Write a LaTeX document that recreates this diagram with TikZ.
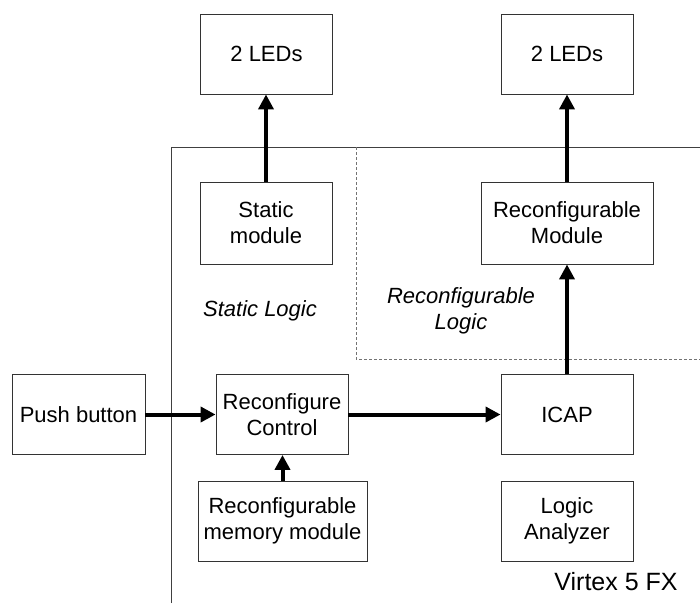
\documentclass[tikz,border=0pt]{standalone}
\usepackage{fontspec}
\setmainfont{Liberation Sans}
\usetikzlibrary{arrows.meta}

\tikzset{
  block/.style={draw=black!80, line width=0.9pt, align=center, inner sep=0pt,
    minimum width=132pt, minimum height=80pt,
    font=\fontsize{22}{26}\selectfont},
  flow/.style={line width=4pt, -{Triangle[length=15pt,width=15pt]}},
  area/.style={font=\fontsize{22}{26}\selectfont\itshape, align=center}
}

\begin{document}
\begin{tikzpicture}[x=1pt, y=-1pt]
    \useasboundingbox (0,0) rectangle (700,603);

    % board outline and reconfigurable region
    \coordinate (fpgabl) at (171,603);
    \coordinate (fpgatl) at (171,147);
    \coordinate (fpgatr) at (700,147);
    \draw[black!75, line width=0.9pt] (fpgabl) -- (fpgatl) -- (fpgatr);
    \coordinate (rptl) at (356,147);
    \coordinate (rpbl) at (356,359);
    \coordinate (rpbr) at (700,359);
    \draw[black!55, line width=0.8pt, dash pattern=on 3pt off 2pt] (rptl) -- (rpbl) -- (rpbr);

    \node[block] (led1) at (266.5,54) {2 LEDs};
    \node[block] (led2) at (567,54) {2 LEDs};
    \node[block, minimum height=82pt] (static) at (266,223) {Static\\module};
    \node[block, minimum width=172pt, minimum height=82pt] (rmod) at (567,223) {Reconfigurable\\Module};
    \node[block, minimum width=133pt] (push) at (78.5,414.5) {Push button};
    \node[block] (ctrl) at (282,414.5) {Reconfigure\\Control};
    \node[block] (icap) at (567,414.5) {ICAP};
    \node[block, minimum width=169pt] (mem) at (282.5,521) {Reconfigurable\\memory module};
    \node[block] (la) at (567,521) {Logic\\Analyzer};

    \node[area] (slogic) at (260,311) {Static Logic};
    \node[area] (rlogic) at (461,311) {Reconfigurable\\Logic};
    \node[font=\fontsize{25}{30}\selectfont] (virtex) at (616,582) {Virtex 5 FX};

    \draw[flow] (static.north) -- (led1.south -| static.north);
    \draw[flow] (rmod.north) -- (led2.south);
    \draw[flow] (icap.north) -- (rmod.south);
    \draw[flow] (push.east) -- (ctrl.west);
    \draw[flow] (ctrl.east) -- (icap.west);
    \draw[flow] (mem.north) -- (ctrl.south -| mem.north);
\end{tikzpicture}
\end{document}
